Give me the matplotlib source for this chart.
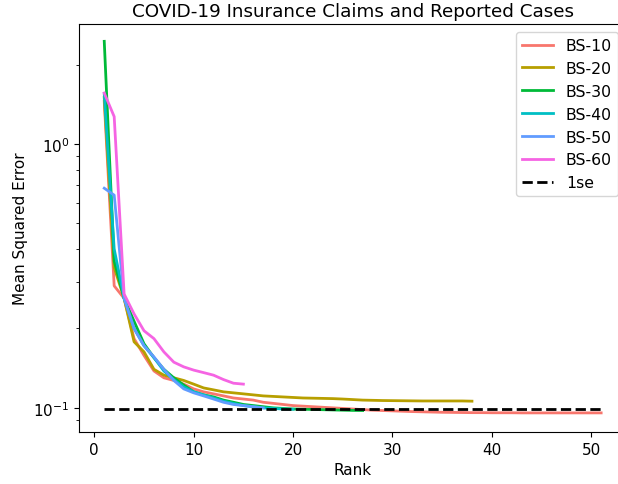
import numpy as np
import matplotlib
matplotlib.use("Agg")
import matplotlib.pyplot as plt


# ---------- DATA ----------
bs10 = [1.45, 0.29, 0.26, 0.183, 0.158, 0.138, 0.130, 0.127, 0.123, 0.118,
        0.115, 0.113, 0.111, 0.109, 0.108, 0.107, 0.105, 0.104, 0.103, 0.102,
        0.1015, 0.101, 0.1005, 0.100, 0.0995, 0.099, 0.0985, 0.098, 0.0977, 0.0974,
        0.0971, 0.0968, 0.0966, 0.0964, 0.0962, 0.0961, 0.096, 0.0959, 0.0959, 0.0958,
        0.0958, 0.0958, 0.0957, 0.0957, 0.0957, 0.0957, 0.0957, 0.0957, 0.0957, 0.0957,
        0.0957]
bs20 = [1.50, 0.34, 0.26, 0.178, 0.163, 0.140, 0.133, 0.130, 0.127, 0.123,
        0.119, 0.117, 0.115, 0.114, 0.113, 0.112, 0.111, 0.1105, 0.110, 0.1095,
        0.109, 0.1088, 0.1086, 0.1084, 0.108, 0.1075, 0.107, 0.1068, 0.1066, 0.1065,
        0.1064, 0.1063, 0.1062, 0.1062, 0.1062, 0.1062, 0.1062, 0.106]
bs30 = [2.45, 0.36, 0.26, 0.213, 0.175, 0.155, 0.140, 0.130, 0.122, 0.115,
        0.112, 0.110, 0.107, 0.105, 0.103, 0.102, 0.101, 0.100, 0.0995, 0.099,
        0.0988, 0.0986, 0.0984, 0.0982, 0.098, 0.0978, 0.0977]
bs40 = [1.55, 0.40, 0.26, 0.200, 0.172, 0.155, 0.138, 0.128, 0.120, 0.115,
        0.112, 0.109, 0.106, 0.104, 0.102, 0.101, 0.100, 0.0995, 0.099, 0.0988]
bs50 = [0.68, 0.64, 0.26, 0.200, 0.172, 0.156, 0.140, 0.127, 0.118, 0.114,
        0.111, 0.108, 0.105, 0.103, 0.102, 0.101, 0.100]
bs60 = [1.56, 1.27, 0.27, 0.227, 0.196, 0.183, 0.163, 0.149, 0.143, 0.139,
        0.136, 0.133, 0.128, 0.124, 0.123]
one_se = 0.099
se_ranks = [1, 51]

series = {"BS-10": bs10, "BS-20": bs20, "BS-30": bs30,
          "BS-40": bs40, "BS-50": bs50, "BS-60": bs60}
colors = ["#F8766D", "#B79F00", "#00BA38", "#00BFC4", "#619CFF", "#F564E3"]
# ---------------------------------------------------


fig = plt.figure(figsize=(6.18, 4.85), dpi=100)
# axes run a bit past the right edge of the image, as in the reference
ax = fig.add_axes([79.4/618, 1 - 433/485, 546.6/618, 408/485])

for (name, vals), c in zip(series.items(), colors):
    ranks = np.arange(1, len(vals) + 1)
    ax.plot(ranks, vals, color=c, lw=2, label=name)

ax.plot(se_ranks, [one_se, one_se], color="black", lw=2, ls="--", label="1se")

ax.set_yscale("log")
ax.set_xlim(-1.5, 53.5)
ax.set_ylim(0.081, 2.85)
ax.set_xlabel("Rank", fontsize=11)
ax.set_ylabel("Mean Squared Error", fontsize=11)
ax.set_title("COVID-19 Insurance Claims and Reported Cases", fontsize=13.2)
ax.tick_params(labelsize=11)
ax.legend(loc="upper right", fontsize=11.3)

fig.savefig("out.png", dpi=100)
plt.close(fig)
